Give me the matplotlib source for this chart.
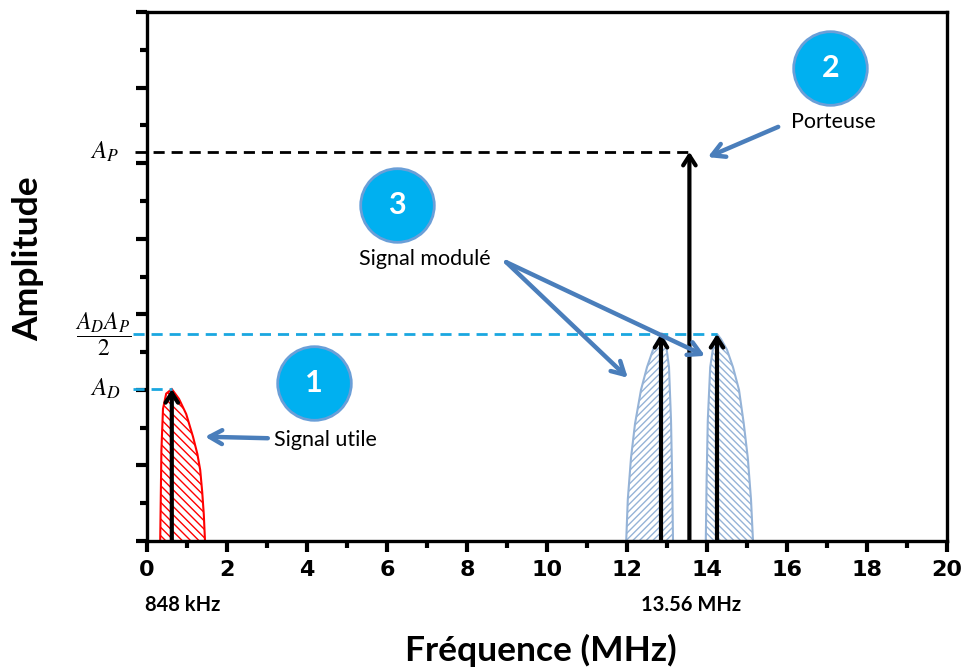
import matplotlib
matplotlib.use("Agg")
import matplotlib.pyplot as plt
import numpy as np

# ---- data ----
x_ticks = [0, 2, 4, 6, 8, 10, 12, 14, 16, 18, 20]
A_D = 2.01
A_P = 5.15
A_DP2 = 2.74
f_signal = 0.62
f_carrier = 13.56
f_low = 12.85
f_high = 14.25

# lobe outlines (frequency, amplitude)
red_x = [0.33, 0.36, 0.40, 0.48, 0.62, 0.80, 0.98, 1.15, 1.26, 1.33, 1.38, 1.42, 1.45]
red_y = [0.0, 1.20, 1.75, 1.95, 2.01, 1.88, 1.68, 1.38, 1.15, 0.94, 0.65, 0.35, 0.0]

low_x = [11.98, 12.02, 12.10, 12.20, 12.35, 12.50, 12.65, 12.78, 12.87, 12.97, 13.05, 13.10, 13.13, 13.15]
low_y = [0.0, 0.55, 1.10, 1.55, 2.00, 2.30, 2.53, 2.67, 2.74, 2.62, 2.30, 1.60, 0.80, 0.0]

high_x = [13.97, 13.99, 14.02, 14.08, 14.17, 14.25, 14.35, 14.50, 14.65, 14.80, 14.92, 15.02, 15.10, 15.15]
high_y = [0.0, 0.80, 1.60, 2.30, 2.62, 2.74, 2.67, 2.53, 2.30, 2.00, 1.55, 1.10, 0.55, 0.0]

plt.rcParams['hatch.linewidth'] = 1.0

fig = plt.figure(figsize=(9.66, 6.7), dpi=100)
ax = fig.add_axes([147/966, 129/670, 800/966, 529/670])
ax.set_xlim(0, 20)
ax.set_ylim(0, 7)

for s in ax.spines.values():
    s.set_linewidth(2.4)
    s.set_color('black')

ax.set_xticks(x_ticks)
ax.set_xticks(np.arange(1, 20, 2), minor=True)
ax.set_yticks(np.arange(0, 8, 1))
ax.set_yticks(np.arange(0.5, 7, 1), minor=True)
ax.set_yticklabels([])
ax.tick_params(axis='x', which='major', direction='out', length=8, width=3, pad=6)
ax.tick_params(axis='x', which='minor', direction='out', length=5, width=3)
ax.tick_params(axis='y', which='major', direction='out', length=8, width=3)
ax.tick_params(axis='y', which='minor', direction='out', length=5, width=3)
tick_font = dict(family=['DejaVu Sans'], weight='bold', size=16)
ax.set_xticklabels([str(t) for t in x_ticks], fontdict=tick_font)

# lobes
red = '#ff0000'
lblue = '#95b3d7'
ax.fill(red_x, red_y, facecolor='white', edgecolor=red, hatch='\\\\\\\\', linewidth=1.5, zorder=2)
ax.fill(low_x, low_y, facecolor='white', edgecolor=lblue, hatch='/////', linewidth=1.5, zorder=2)
ax.fill(high_x, high_y, facecolor='white', edgecolor=lblue, hatch='\\\\\\\\\\', linewidth=1.5, zorder=2)

# dashed reference lines
dblue = '#1aa7e0'
ax.plot([-0.3, f_carrier], [A_P, A_P], color='black', lw=2, dashes=(4, 2.5), clip_on=False, zorder=3)
ax.plot([-0.35, f_high], [A_DP2, A_DP2], color=dblue, lw=2, dashes=(4, 2.5), clip_on=False, zorder=3)
ax.plot([-0.35, f_signal], [A_D, A_D], color=dblue, lw=2, dashes=(4, 2.5), clip_on=False, zorder=3)

# spectral arrows
def up_arrow(x, y):
    ax.annotate('', xy=(x, y), xytext=(x, 0),
                arrowprops=dict(arrowstyle='->,head_length=0.7,head_width=0.45',
                                color='black', lw=3, shrinkA=0, shrinkB=0),
                zorder=4)

up_arrow(f_signal, A_D)
up_arrow(f_low, A_DP2)
up_arrow(f_high, A_DP2)
up_arrow(f_carrier, A_P)

# y labels (math)
ax.text(-1.05, A_P, r'$A_P$', ha='center', va='center', fontsize=18, math_fontfamily='stix')
ax.text(-1.1, A_DP2, r'$\dfrac{A_D A_P}{2}$', ha='center', va='center', fontsize=17, math_fontfamily='stix')
ax.text(-1.05, A_D, r'$A_D$', ha='center', va='center', fontsize=18, math_fontfamily='stix')

# numbered circles
circ_fc = '#00b0f0'
circ_ec = '#6a9fd8'
for (cx, cy, n) in [(4.175, 2.09, '1'), (17.08, 6.26, '2'), (6.25, 4.45, '3')]:
    ax.plot([cx], [cy], marker='o', markersize=53, markerfacecolor=circ_fc,
            markeredgecolor=circ_ec, markeredgewidth=2, clip_on=False, zorder=5)
    ax.text(cx, cy, n, color='white', fontsize=22, fontweight='bold', family='Lato',
            ha='center', va='center', zorder=6)

# annotation texts
txt = dict(family='Lato', fontsize=15.5, color='black', ha='center', va='center')
ax.text(4.45, 1.34, 'Signal utile', **txt)
ax.text(17.15, 5.54, 'Porteuse', **txt)
ax.text(6.95, 3.73, 'Signal modulé', **txt)

# blue pointer arrows
arr_c = '#4a7ebb'
def pointer(x0, y0, x1, y1):
    ax.annotate('', xy=(x1, y1), xytext=(x0, y0),
                arrowprops=dict(arrowstyle='->,head_length=0.9,head_width=0.5',
                                color=arr_c, lw=3.2, shrinkA=0, shrinkB=0),
                zorder=5, annotation_clip=False)

pointer(3.02, 1.36, 1.45, 1.38)
pointer(15.78, 5.48, 14.02, 5.08)
pointer(8.98, 3.69, 12.02, 2.16)
pointer(8.98, 3.69, 13.95, 2.45)

# frequency notes
note = dict(family='Lato', fontweight='bold', fontsize=14.5, ha='center', va='center',
            clip_on=False)
ax.text(0.9, -0.85, '848 kHz', **note)
ax.text(13.6, -0.85, '13.56 MHz', **note)

# axis labels
fig.text(28/966, 1 - 259/670, 'Amplitude', rotation=90, family='Lato', fontweight='bold',
         fontsize=25.5, ha='center', va='center')
fig.text(541/966, 1 - 650/670, 'Fréquence (MHz)', family='Lato', fontweight='bold',
         fontsize=25.5, ha='center', va='center')

fig.savefig('out.png', dpi=100)
